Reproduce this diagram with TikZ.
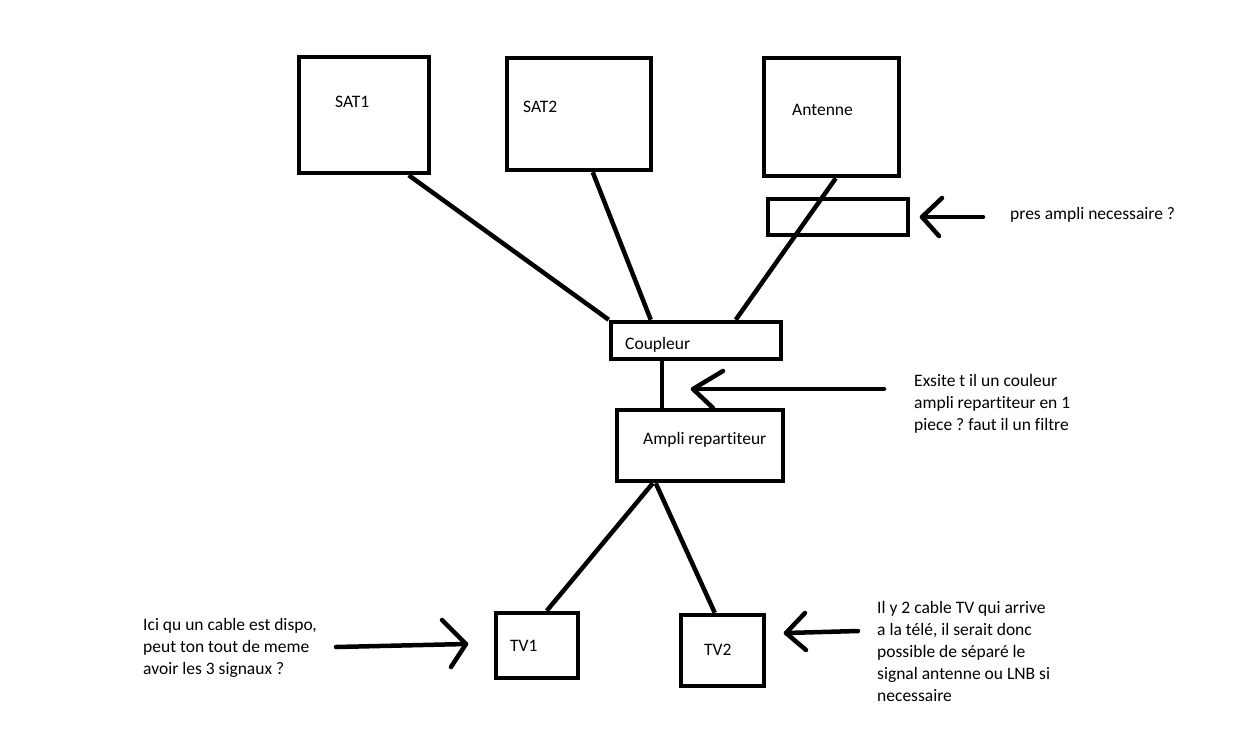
\documentclass[tikz,border=0pt]{standalone}
\usepackage{fontspec}
\setmainfont{Carlito}[Ligatures={NoCommon}]
\usetikzlibrary{calc}
\frenchspacing
\begin{document}
\begin{tikzpicture}[x=1pt,y=-1pt,
  box/.style={draw=black,line width=4.5pt,inner sep=0pt,minimum width=#1},
  wire/.style={draw=black,line width=4.5pt},
  hand/.style={draw=black,line width=4.5pt,line cap=round,line join=round},
  lbl/.style={inner sep=0pt,anchor=base west,font=\fontsize{17.5}{22}\selectfont},
  note/.style={inner sep=0pt,anchor=base west,align=left,font=\fontsize{17.5}{22}\selectfont}]
\useasboundingbox[fill=white] (0,0) rectangle (1244,748);
% boxes
\node[box=130,minimum height=116] (sat1) at (364,115) {};
\node[box=144,minimum height=112] (sat2) at (579,114) {};
\node[box=135,minimum height=118] (ant) at (831.5,117) {};
\node[box=140,minimum height=36] (pre) at (838,217) {};
\node[box=170,minimum height=37] (coup) at (696,340.5) {};
\node[box=166,minimum height=71] (amp) at (700,445.5) {};
\node[box=82,minimum height=65] (tv1) at (537,645.5) {};
\node[box=83,minimum height=71] (tv2) at (722.5,650.5) {};
% box labels
\node[lbl] (sat1t) at (335,107) {SAT1};
\node[lbl] (sat2t) at (523,112) {SAT2};
\node[lbl] (antt) at (792,115) {Antenne};
\node[lbl] (coupt) at (625,349) {Coupleur};
\node[lbl] (ampt) at (643,444) {Ampli repartiteur};
\node[lbl] (tv1t) at (510,651) {TV1};
\node[lbl] (tv2t) at (704,655) {TV2};
% connectors
\draw[wire] ($(sat1.south west)+(112,0)$) -- (coup.north west);
\draw[wire] ($(sat2.south west)+(88,0)$) -- ($(coup.north west)+(42,0)$);
\draw[wire] ($(ant.south west)+(74,0)$) -- ($(coup.north west)+(127,0)$);
\draw[wire] ($(coup.south west)+(53,0)$) -- ($(amp.north west)+(47,0)$);
\draw[wire] ($(amp.south west)+(38,0)$) -- ($(tv1.north west)+(53,0)$);
\draw[wire] ($(amp.south west)+(41,0)$) -- ($(tv2.north west)+(36,0)$);
% notes (anchor = baseline of last line)
\node[note] (n1) at (1010,219) {pres ampli necessaire ?};
\node[note] (n2) at (914,430) {Exsite t il un couleur\\ampli repartiteur en 1\\piece ? faut il un filtre};
\node[note] (n3) at (143,674) {Ici qu un cable est dispo,\\peut ton tout de meme\\avoir les 3 signaux ?};
\node[note] (n4) at (877,701) {Il y 2 cable TV qui arrive\\a la télé, il serait donc\\possible de séparé le\\signal antenne ou LNB si\\necessaire};
% hand drawn arrows
\coordinate (a1s) at (983,217); \coordinate (a1t) at (922,217);
\draw[hand] (a1s) -- (a1t);
\draw[hand] (942,198) -- (a1t) -- (939,236);
\coordinate (a2s) at (884,389); \coordinate (a2t) at (693,389);
\draw[hand] (a2s) -- (a2t);
\draw[hand] (723,371) -- (a2t) -- (713,408);
\coordinate (a3s) at (336,647); \coordinate (a3t) at (466,644);
\draw[hand] (a3s) -- (a3t);
\draw[hand] (442,620) -- (a3t) -- (451,667);
\coordinate (a4s) at (858,631); \coordinate (a4t) at (786,633);
\draw[hand] (a4s) -- (a4t);
\draw[hand] (805,613) -- (a4t) -- (806,650);
\end{tikzpicture}
\end{document}
